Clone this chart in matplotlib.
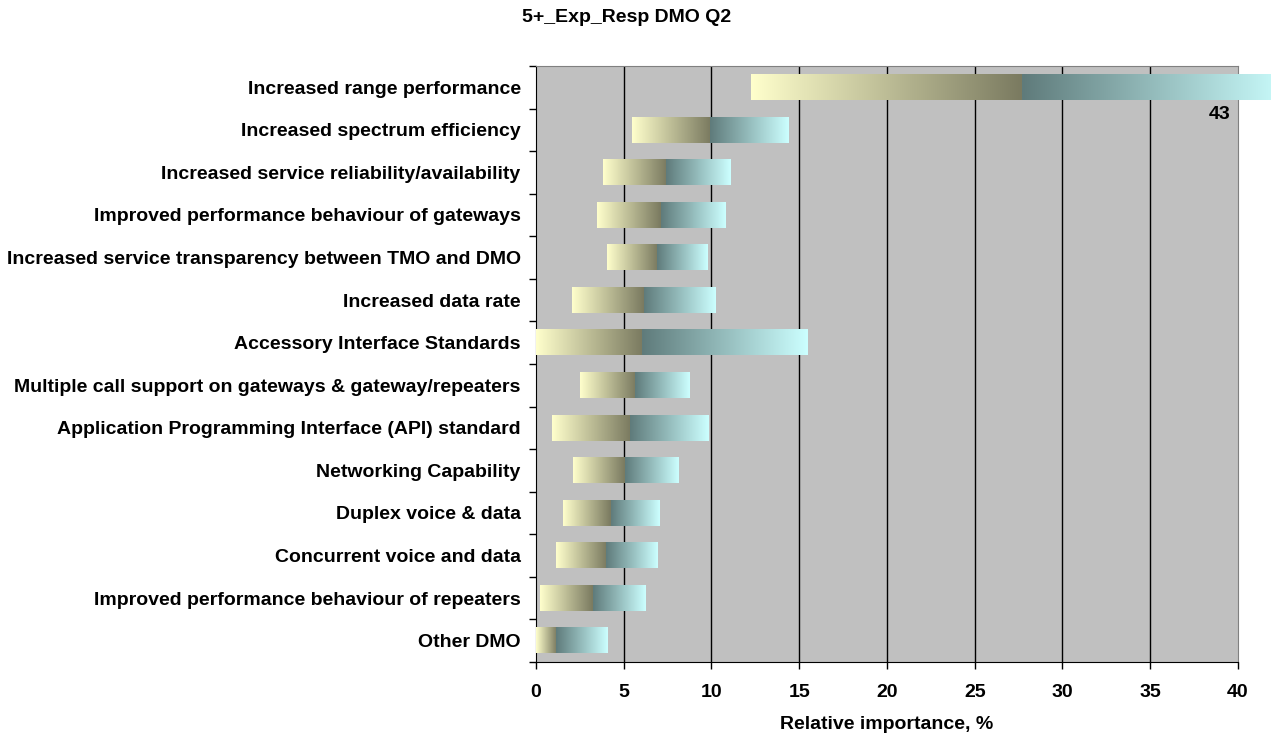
import matplotlib.pyplot as plt
import numpy as np
from matplotlib.colors import LinearSegmentedColormap

plt.rcParams['font.family'] = ['Liberation Sans', 'DejaVu Sans']
plt.rcParams['font.weight'] = 'bold'

# categories top to bottom
labels = ["Increased range performance",
          "Increased spectrum efficiency",
          "Increased service reliability/availability",
          "Improved performance behaviour of gateways",
          "Increased service transparency between TMO and DMO",
          "Increased data rate",
          "Accessory Interface Standards",
          "Multiple call support on gateways & gateway/repeaters",
          "Application Programming Interface (API) standard",
          "Networking Capability",
          "Duplex voice & data",
          "Concurrent voice and data",
          "Improved performance behaviour of repeaters",
          "Other DMO"]
low = [12.25, 5.45, 3.8, 3.5, 4.05, 2.05, 0.0, 2.5, 0.9, 2.1, 1.55, 1.15, 0.25, 0.0]
mid = [27.7, 9.9, 7.4, 7.1, 6.9, 6.15, 6.05, 5.65, 5.35, 5.05, 4.25, 4.0, 3.25, 1.15]
high = [43, 14.4, 11.1, 10.8, 9.8, 10.25, 15.5, 8.75, 9.85, 8.1, 7.0, 6.95, 6.25, 4.1]

cmap_lo = LinearSegmentedColormap.from_list("lo", ["#FFFFCC", "#7A7A60"])
cmap_hi = LinearSegmentedColormap.from_list("hi", ["#5F7B7B", "#CCFFFF"])
grad = np.linspace(0, 1, 256).reshape(1, -1)

fig = plt.figure(figsize=(12.71, 7.38), dpi=100)
ax = fig.add_axes([0.4217, 0.103, 0.5523, 0.8076])
ax.set_facecolor("#C0C0C0")

n = len(labels)
ypos = np.arange(n)
h = 0.6
for i in range(n):
    y = ypos[i]
    im1 = ax.imshow(grad, cmap=cmap_lo, aspect='auto', interpolation='bilinear',
                    extent=[low[i], mid[i], y + h / 2, y - h / 2], zorder=3)
    im2 = ax.imshow(grad, cmap=cmap_hi, aspect='auto', interpolation='bilinear',
                    extent=[mid[i], high[i], y + h / 2, y - h / 2], zorder=3)
    if high[i] > 40:
        im1.set_clip_on(False)
        im2.set_clip_on(False)
        ax.text(39.6, y + 0.65, str(high[i]), ha='right', va='center',
                fontsize=14, fontweight='bold')

ax.set_xlim(0, 40)
ax.set_ylim(n - 0.5, -0.5)
ax.set_xticks(np.arange(0, 41, 5))
ax.tick_params(axis='x', labelsize=14, length=5, width=1, pad=11)
ax.set_yticks(ypos)
ax.set_yticklabels(labels, fontsize=14, fontweight='bold')
ax.tick_params(axis='y', length=0, pad=11)
ax.set_yticks(np.arange(-0.5, n, 1), minor=True)
ax.tick_params(axis='y', which='minor', length=5, width=1)
for xv in range(5, 40, 5):
    ax.axvline(xv, color='black', lw=1, zorder=1)

ax.spines['left'].set_color('black')
ax.spines['bottom'].set_color('black')
ax.spines['top'].set_color('#808080')
ax.spines['right'].set_color('#808080')

ax.set_xlabel("Relative importance, %", fontsize=14, fontweight='bold', labelpad=11)
fig.text(627 / 1271, 1 - 18 / 738, "5+_Exp_Resp DMO Q2", ha='center', va='center',
         fontsize=14, fontweight='bold')

fig.savefig("out.png")
